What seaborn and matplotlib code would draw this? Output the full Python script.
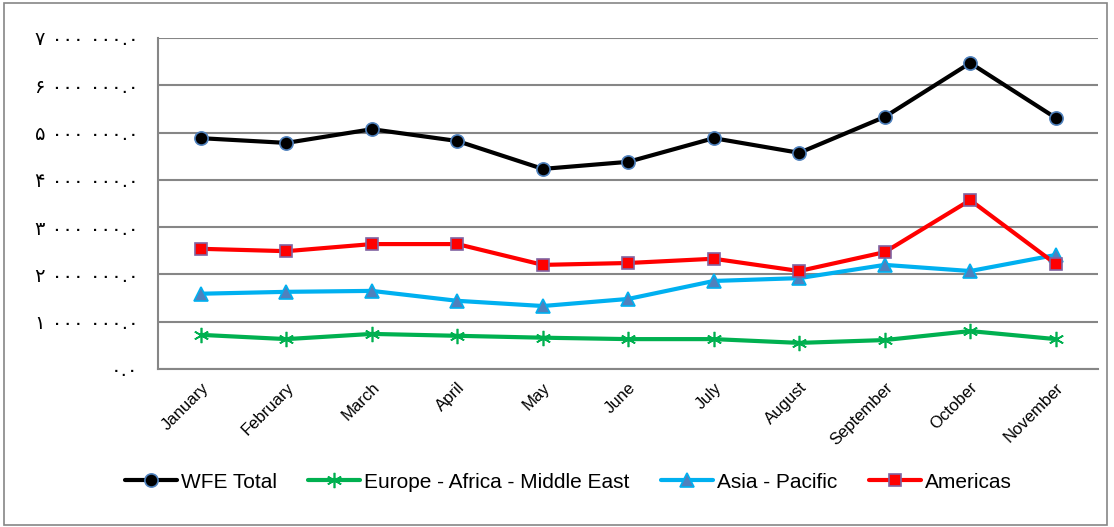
import matplotlib
matplotlib.use("Agg")
import matplotlib.pyplot as plt
import seaborn as sns
import pandas as pd
from matplotlib.patches import Rectangle

months = ["January", "February", "March", "April", "May", "June", "July",
          "August", "September", "October", "November"]
wfe_total = [4.88e6, 4.78e6, 5.07e6, 4.82e6, 4.23e6, 4.38e6, 4.88e6, 4.57e6, 5.33e6, 6.47e6, 5.31e6]
europe = [0.72e6, 0.63e6, 0.74e6, 0.70e6, 0.66e6, 0.63e6, 0.63e6, 0.55e6, 0.61e6, 0.80e6, 0.63e6]
asia = [1.59e6, 1.63e6, 1.65e6, 1.44e6, 1.33e6, 1.48e6, 1.86e6, 1.92e6, 2.20e6, 2.07e6, 2.41e6]
americas = [2.54e6, 2.49e6, 2.64e6, 2.64e6, 2.20e6, 2.24e6, 2.33e6, 2.07e6, 2.47e6, 3.57e6, 2.22e6]
y_ticks = [0, 1e6, 2e6, 3e6, 4e6, 5e6, 6e6, 7e6]
y_labels = ["۰.۰", "۱ ۰۰۰ ۰۰۰.۰", "۲ ۰۰۰ ۰۰۰.۰", "۳ ۰۰۰ ۰۰۰.۰", "۴ ۰۰۰ ۰۰۰.۰",
            "۵ ۰۰۰ ۰۰۰.۰", "۶ ۰۰۰ ۰۰۰.۰", "۷ ۰۰۰ ۰۰۰.۰"]

sns.set_style("white")
plt.rcParams['font.family'] = ['Liberation Sans', 'DejaVu Sans']
plt.rcParams['text.color'] = 'black'
plt.rcParams['xtick.labelcolor'] = 'black'
plt.rcParams['ytick.labelcolor'] = 'black'

fig = plt.figure(figsize=(11.14, 5.27), dpi=100)
ax = fig.add_axes([0.142, 0.300, 0.844, 0.628])

x = list(range(len(months)))
series = [
    ("WFE Total", wfe_total, dict(color="black", marker="o", markersize=9.5,
                                  markerfacecolor="black", markeredgecolor="#4F81BD", markeredgewidth=1.2)),
    ("Europe - Africa - Middle East", europe, dict(color="#00B050", marker=(6, 2, 0), markersize=11,
                                                   markerfacecolor="#00B050", markeredgecolor="#00B050", markeredgewidth=1.2)),
    ("Asia - Pacific", asia, dict(color="#00B0F0", marker="^", markersize=10,
                                  markerfacecolor="#4F81BD", markeredgecolor="#00B0F0", markeredgewidth=1.2)),
    ("Americas", americas, dict(color="#FF0000", marker="s", markersize=9,
                                markerfacecolor="#FF0000", markeredgecolor="#8064A2", markeredgewidth=1.2)),
]
for name, vals, style in series:
    df = pd.DataFrame({"x": x, "y": vals})
    sns.lineplot(data=df, x="x", y="y", ax=ax, linewidth=3, label=name, **style)

ax.set_xlim(-0.5, len(months) - 0.5)
ax.set_ylim(0, 7e6)
ax.set_yticks(y_ticks)
ax.set_yticklabels(y_labels, fontsize=14, family=['DejaVu Sans'], color="black")
ax.yaxis.grid(True, color="#868686", linewidth=1.5)
ax.set_axisbelow(True)

ax.set_xticks([i - 0.5 for i in range(len(months) + 1)], minor=False)
ax.set_xticklabels([])
ax.set_xticks(x, minor=True)
ax.set_xticklabels(months, minor=True, rotation=45, ha="right", rotation_mode="anchor",
                   fontsize=12, color="black")
ax.tick_params(axis="x", which="minor", length=0, pad=8)
ax.tick_params(axis="x", which="major", length=6, color="#868686", width=1.2, direction="out")
ax.tick_params(axis="y", length=6, color="#868686", width=1.2, direction="out", pad=8)
ax.set_xlabel("")
ax.set_ylabel("")

for s in ["top", "right"]:
    ax.spines[s].set_visible(False)
for s in ["left", "bottom"]:
    ax.spines[s].set_color("#868686")
    ax.spines[s].set_linewidth(1.5)

leg = ax.legend(loc="center", bbox_to_anchor=(0.51, 0.085), bbox_transform=fig.transFigure,
                ncol=4, frameon=False, fontsize=15, handlelength=2.5, handletextpad=0.2, columnspacing=1.5)
for t in leg.get_texts():
    t.set_color("black")

fig.patches.append(Rectangle((0.004, 0.004), 0.99, 0.99, transform=fig.transFigure,
                             fill=False, edgecolor="#868686", linewidth=1.2))

fig.savefig("out.png", dpi=100)
